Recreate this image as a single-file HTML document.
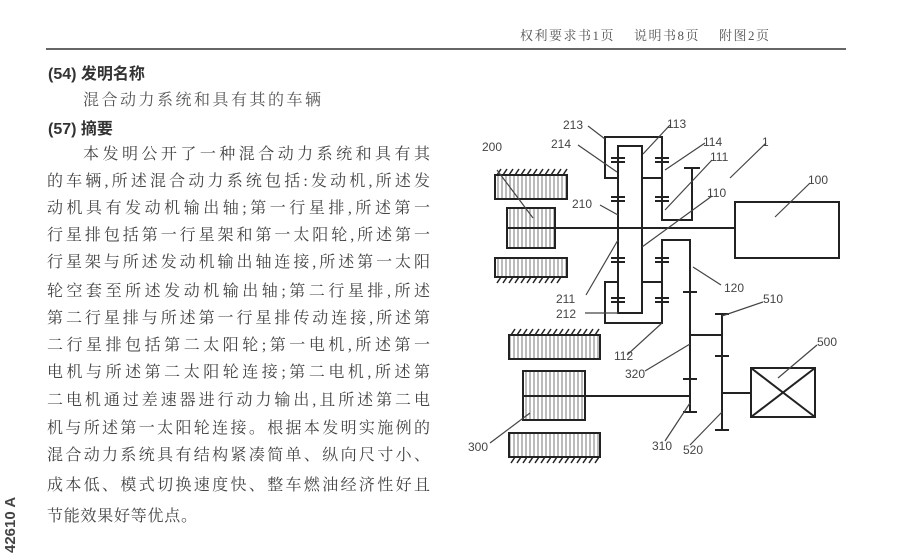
<!DOCTYPE html>
<html><head><meta charset="utf-8"><style>
html,body{margin:0;padding:0;background:#fff;}
body{width:910px;height:553px;position:relative;overflow:hidden;font-family:"Liberation Serif","Noto Serif CJK SC","Noto Sans CJK SC",serif;color:#3a3a3a;}
.hdr{position:absolute;left:520px;top:25px;font-size:13px;color:#555;white-space:nowrap;letter-spacing:1.5px;}
.rule{position:absolute;left:46px;top:48px;width:800px;height:2px;background:#666;}
.t{position:absolute;white-space:nowrap;font-size:16px;}
.b{font-family:"Liberation Sans","Noto Sans CJK SC",sans-serif;font-weight:bold;color:#333;}
.ln{position:absolute;left:47px;width:383px;height:20px;font-size:16px;line-height:20px;color:#444;text-align:justify;text-align-last:justify;white-space:nowrap;overflow:visible;}
</style></head><body>
<div class="hdr">权利要求书1页&nbsp;&nbsp;&nbsp;&nbsp;说明书8页&nbsp;&nbsp;&nbsp;&nbsp;附图2页</div>
<div class="rule"></div>
<div class="t b" style="left:48px;top:60px;">(54) 发明名称</div>
<div class="t" style="left:83px;top:87px;color:#555;letter-spacing:2.5px;">混合动力系统和具有其的车辆</div>
<div class="t b" style="left:48px;top:115px;">(57) 摘要</div>
<div class="ln" style="top:145px;left:83px;width:347px;">本发明公开了一种混合动力系统和具有其</div>
<div class="ln" style="top:172px;">的车辆,所述混合动力系统包括:发动机,所述发</div>
<div class="ln" style="top:199px;">动机具有发动机输出轴;第一行星排,所述第一</div>
<div class="ln" style="top:226px;">行星排包括第一行星架和第一太阳轮,所述第一</div>
<div class="ln" style="top:253px;">行星架与所述发动机输出轴连接,所述第一太阳</div>
<div class="ln" style="top:282px;">轮空套至所述发动机输出轴;第二行星排,所述</div>
<div class="ln" style="top:309px;">第二行星排与所述第一行星排传动连接,所述第</div>
<div class="ln" style="top:336px;">二行星排包括第二太阳轮;第一电机,所述第一</div>
<div class="ln" style="top:363px;">电机与所述第二太阳轮连接;第二电机,所述第</div>
<div class="ln" style="top:391px;">二电机通过差速器进行动力输出,且所述第二电</div>
<div class="ln" style="top:419px;">机与所述第一太阳轮连接。根据本发明实施例的</div>
<div class="ln" style="top:446px;">混合动力系统具有结构紧凑简单、纵向尺寸小、</div>
<div class="ln" style="top:476px;">成本低、模式切换速度快、整车燃油经济性好且</div>
<div class="ln" style="top:507px;width:150px;">节能效果好等优点。</div>
<div style="position:absolute;left:2px;top:486px;width:18px;height:67px;">
<div style="transform:rotate(-90deg);transform-origin:left top;position:absolute;left:0;top:67px;font-family:'Liberation Sans',sans-serif;font-weight:bold;font-size:15px;color:#444;white-space:nowrap;">42610 A</div></div>

<svg style="position:absolute;left:0;top:0" width="910" height="553" viewBox="0 0 910 553">
<defs>
<pattern id="vh" width="4" height="10" patternUnits="userSpaceOnUse"><rect width="4" height="10" fill="#fff"/><line x1="2" y1="0" x2="2" y2="10" stroke="#777" stroke-width="1"/></pattern>
</defs>
<g stroke="#222" stroke-width="2" fill="none">
<rect x="495" y="175" width="72" height="24" fill="url(#vh)"/>
<rect x="507" y="208" width="48" height="40" fill="url(#vh)"/>
<line x1="507" y1="228" x2="555" y2="228"/>
<rect x="495" y="258" width="72" height="19" fill="url(#vh)"/>
<rect x="509" y="335" width="91" height="24" fill="url(#vh)"/>
<rect x="523" y="371" width="62" height="49" fill="url(#vh)"/>
<rect x="509" y="433" width="91" height="24" fill="url(#vh)"/>
<line x1="523" y1="396" x2="690" y2="396"/>
<line x1="555" y1="228" x2="735" y2="228"/>
<rect x="735" y="202" width="104" height="56"/>
<rect x="618" y="146" width="24" height="167"/>
<polyline points="618,178 605,178 605,137 662,137 662,220 692,220 692,168"/>
<line x1="642" y1="178" x2="662" y2="178"/>
<line x1="684" y1="168" x2="700" y2="168"/>
<polyline points="618,282 605,282 605,323 662,323 662,240 690,240 690,412"/>
<line x1="642" y1="282" x2="662" y2="282"/>
<line x1="683" y1="412" x2="697" y2="412"/>
<line x1="690" y1="335" x2="722" y2="335"/>
<line x1="722" y1="314" x2="722" y2="430"/>
<line x1="715" y1="314" x2="729" y2="314"/>
<line x1="715" y1="430" x2="729" y2="430"/>
<line x1="722" y1="393" x2="751" y2="393"/>
<rect x="751" y="368" width="64" height="49"/>
<line x1="751" y1="368" x2="815" y2="417"/>
<line x1="815" y1="368" x2="751" y2="417"/>
</g>
<g stroke="#222" stroke-width="2">
<line x1="611" y1="158" x2="625" y2="158"/><line x1="611" y1="162" x2="625" y2="162"/>
<line x1="611" y1="197" x2="625" y2="197"/><line x1="611" y1="201" x2="625" y2="201"/>
<line x1="611" y1="258" x2="625" y2="258"/><line x1="611" y1="262" x2="625" y2="262"/>
<line x1="611" y1="298" x2="625" y2="298"/><line x1="611" y1="302" x2="625" y2="302"/>
<line x1="655" y1="158" x2="669" y2="158"/><line x1="655" y1="162" x2="669" y2="162"/>
<line x1="655" y1="197" x2="669" y2="197"/><line x1="655" y1="201" x2="669" y2="201"/>
<line x1="655" y1="258" x2="669" y2="258"/><line x1="655" y1="262" x2="669" y2="262"/>
<line x1="655" y1="298" x2="669" y2="298"/><line x1="655" y1="302" x2="669" y2="302"/>
<line x1="683" y1="292" x2="697" y2="292"/>
<line x1="683" y1="379" x2="697" y2="379"/>
<line x1="715" y1="356" x2="729" y2="356"/>
</g>
<g stroke="#222" stroke-width="1.5">
<path d="M497 175l4-6M503 175l4-6M509 175l4-6M515 175l4-6M521 175l4-6M527 175l4-6M533 175l4-6M539 175l4-6M545 175l4-6M551 175l4-6M557 175l4-6M563 175l4-6"/>
<path d="M497 283l4-6M503 283l4-6M509 283l4-6M515 283l4-6M521 283l4-6M527 283l4-6M533 283l4-6M539 283l4-6M545 283l4-6M551 283l4-6M557 283l4-6"/>
<path d="M511 335l4-6M517 335l4-6M523 335l4-6M529 335l4-6M535 335l4-6M541 335l4-6M547 335l4-6M553 335l4-6M559 335l4-6M565 335l4-6M571 335l4-6M577 335l4-6M583 335l4-6M589 335l4-6M595 335l4-6"/>
<path d="M511 463l4-6M517 463l4-6M523 463l4-6M529 463l4-6M535 463l4-6M541 463l4-6M547 463l4-6M553 463l4-6M559 463l4-6M565 463l4-6M571 463l4-6M577 463l4-6M583 463l4-6M589 463l4-6M595 463l4-6"/>
</g>
<g stroke="#444" stroke-width="1.2" fill="none">
<line x1="588" y1="126" x2="605" y2="139"/>
<line x1="578" y1="145" x2="617" y2="172"/>
<line x1="670" y1="125" x2="643" y2="154"/>
<line x1="705" y1="143" x2="665" y2="170"/>
<line x1="712" y1="160" x2="665" y2="210"/>
<line x1="766" y1="143" x2="730" y2="178"/>
<line x1="712" y1="196" x2="642" y2="247"/>
<line x1="810" y1="183" x2="775" y2="217"/>
<line x1="497" y1="170" x2="533" y2="218"/>
<line x1="600" y1="205" x2="618" y2="215"/>
<line x1="586" y1="295" x2="618" y2="240"/>
<line x1="585" y1="313" x2="618" y2="313"/>
<line x1="693" y1="267" x2="721" y2="285"/>
<line x1="763" y1="302" x2="722" y2="316"/>
<line x1="627" y1="355" x2="662" y2="323"/>
<line x1="645" y1="371" x2="690" y2="344"/>
<line x1="817" y1="345" x2="778" y2="378"/>
<line x1="490" y1="443" x2="530" y2="413"/>
<line x1="665" y1="441" x2="690" y2="403"/>
<line x1="690" y1="445" x2="722" y2="412"/>
</g>
<g font-family="Liberation Sans, sans-serif" font-size="12" fill="#444">
<text x="563" y="129">213</text>
<text x="551" y="148">214</text>
<text x="667" y="128">113</text>
<text x="703" y="146">114</text>
<text x="710" y="161">111</text>
<text x="762" y="146">1</text>
<text x="707" y="197">110</text>
<text x="808" y="184">100</text>
<text x="482" y="151">200</text>
<text x="572" y="208">210</text>
<text x="556" y="303">211</text>
<text x="556" y="318">212</text>
<text x="724" y="292">120</text>
<text x="763" y="303">510</text>
<text x="614" y="360">112</text>
<text x="625" y="378">320</text>
<text x="817" y="346">500</text>
<text x="468" y="451">300</text>
<text x="652" y="450">310</text>
<text x="683" y="454">520</text>
</g>
</svg>
</body></html>
